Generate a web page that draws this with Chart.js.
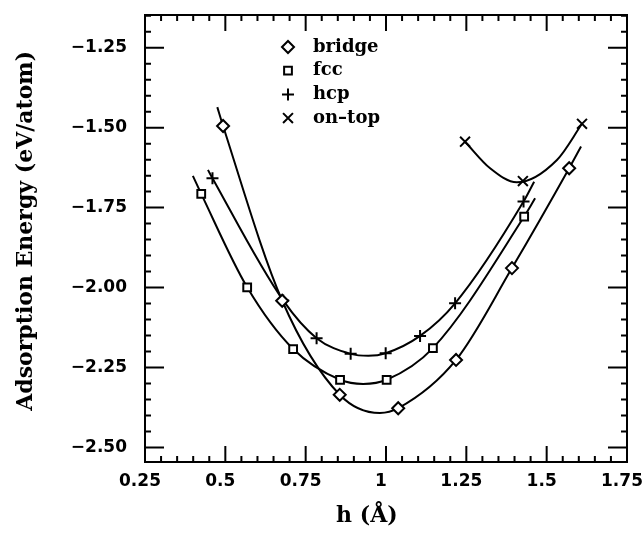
<!DOCTYPE html>
<html>
<head>
<meta charset="utf-8">
<script src="https://cdn.jsdelivr.net/npm/chart.js@4/dist/chart.umd.min.js"></script>
<style>
  html, body { margin: 0; padding: 0; background: #fff; }
</style>
</head>
<body>
<canvas id="adsorptionChart" width="644" height="533"></canvas>
<script>
// Energias de adsorção calculadas (marcadores)
const bridgeH = [0.493, 0.677, 0.856, 1.038, 1.218, 1.392, 1.570];
const bridgeE = [-1.495, -2.041, -2.335, -2.377, -2.226, -1.939, -1.627];
const fccH = [0.425, 0.568, 0.711, 0.857, 1.002, 1.146, 1.430];
const fccE = [-1.707, -1.999, -2.192, -2.288, -2.288, -2.189, -1.778];
const hcpH = [0.460, 0.680, 0.784, 0.890, 0.999, 1.106, 1.215, 1.428];
const hcpE = [-1.658, -2.040, -2.158, -2.207, -2.205, -2.151, -2.049, -1.731];
const ontopH = [1.246, 1.426, 1.610];
const ontopE = [-1.544, -1.667, -1.488];

// Curvas ajustadas, lidas ao longo da linha desenhada
const bridgeFitH = [0.475, 0.493, 0.677, 0.856, 0.981, 1.038, 1.218, 1.392, 1.570, 1.607];
const bridgeFitE = [-1.436, -1.495, -2.041, -2.335, -2.392, -2.377, -2.226, -1.939, -1.627, -1.559];
const fccFitH = [0.399, 0.425, 0.568, 0.711, 0.857, 0.929, 1.002, 1.146, 1.430, 1.464];
const fccFitE = [-1.651, -1.707, -1.999, -2.192, -2.288, -2.301, -2.288, -2.189, -1.778, -1.721];
const hcpFitH = [0.446, 0.460, 0.680, 0.784, 0.890, 0.945, 0.999, 1.106, 1.215, 1.428, 1.461];
const hcpFitE = [-1.632, -1.658, -2.040, -2.158, -2.207, -2.213, -2.205, -2.151, -2.049, -1.731, -1.669];
const ontopFitH = [1.246, 1.324, 1.407, 1.532, 1.610];
const ontopFitE = [-1.544, -1.627, -1.671, -1.601, -1.488];

// Eixos
const xTickValues = [0.25, 0.5, 0.75, 1, 1.25, 1.5, 1.75];
const xTickLabels = ['0.25', '0.5', '0.75', '1', '1.25', '1.5', '1.75'];
const yTickValues = [-2.5, -2.25, -2.0, -1.75, -1.5, -1.25];
const yTickLabels = ['\u22122.50', '\u22122.25', '\u22122.00', '\u22121.75', '\u22121.50', '\u22121.25'];

const toPoints = (xs, ys) => xs.map((v, i) => ({ x: v, y: ys[i] }));

const tickFont = { family: "'DejaVu Sans', sans-serif", size: 17, weight: 'bold' };
const titleFont = { family: "'DejaVu Serif', serif", size: 22, weight: 'bold' };

function fitLine(xs, ys) {
  return {
    type: 'line',
    data: toPoints(xs, ys),
    borderColor: '#000',
    borderWidth: 2,
    pointRadius: 0,
    cubicInterpolationMode: 'monotone',
    fill: false,
    order: 2
  };
}

function markers(label, xs, ys, style, radius) {
  return {
    type: 'scatter',
    label: label,
    data: toPoints(xs, ys),
    showLine: false,
    pointStyle: style,
    pointRadius: radius,
    pointBorderColor: '#000',
    pointBackgroundColor: '#fff',
    pointBorderWidth: 2,
    order: 1,
    isMarker: true
  };
}

// Moldura com marcas internas nos quatro lados
const frameTicks = {
  id: 'frameTicks',
  afterDatasetsDraw(chart) {
    const { ctx, chartArea: a, scales: { x, y } } = chart;
    ctx.save();
    ctx.strokeStyle = '#000';
    ctx.lineWidth = 2;
    ctx.strokeRect(a.left, a.top, a.right - a.left, a.bottom - a.top);
    ctx.beginPath();
    for (let k = 0; k <= 30; k++) {
      const v = 0.25 + k * 0.05;
      const px = x.getPixelForValue(v);
      const len = k % 5 === 0 ? 16 : 6;
      ctx.moveTo(px, a.bottom); ctx.lineTo(px, a.bottom - len);
      ctx.moveTo(px, a.top); ctx.lineTo(px, a.top + len);
    }
    for (let k = 0; k <= 27; k++) {
      const v = -2.5 + k * 0.05;
      if (v > y.max) break;
      const py = y.getPixelForValue(v);
      const len = k % 5 === 0 ? 19 : 6;
      ctx.moveTo(a.left, py); ctx.lineTo(a.left + len, py);
      ctx.moveTo(a.right, py); ctx.lineTo(a.right - len, py);
    }
    ctx.stroke();
    ctx.restore();
  }
};

// Legenda dentro da área do gráfico
function drawMarker(ctx, style, cx, cy, r) {
  ctx.beginPath();
  if (style === 'rectRot') {
    ctx.moveTo(cx - r, cy); ctx.lineTo(cx, cy - r); ctx.lineTo(cx + r, cy); ctx.lineTo(cx, cy + r); ctx.closePath();
  } else if (style === 'rect') {
    const s = r * Math.SQRT1_2;
    ctx.rect(cx - s, cy - s, 2 * s, 2 * s);
  } else if (style === 'cross') {
    ctx.moveTo(cx - r, cy); ctx.lineTo(cx + r, cy); ctx.moveTo(cx, cy - r); ctx.lineTo(cx, cy + r);
  } else {
    const s = r * Math.SQRT1_2;
    ctx.moveTo(cx - s, cy - s); ctx.lineTo(cx + s, cy + s); ctx.moveTo(cx + s, cy - s); ctx.lineTo(cx - s, cy + s);
  }
  ctx.fill();
  ctx.stroke();
}

const insideLegend = {
  id: 'insideLegend',
  afterDraw(chart) {
    const { ctx, chartArea: a } = chart;
    const items = chart.data.datasets.filter(d => d.isMarker);
    ctx.save();
    ctx.font = "bold 18px 'DejaVu Serif', serif";
    ctx.textBaseline = 'middle';
    ctx.fillStyle = '#000';
    ctx.strokeStyle = '#000';
    ctx.lineWidth = 2;
    items.forEach((d, i) => {
      const cy = a.top + 32 + i * 23.7;
      const cx = a.left + 143;
      ctx.fillStyle = '#fff';
      drawMarker(ctx, d.pointStyle, cx, cy, d.pointRadius);
      ctx.fillStyle = '#000';
      ctx.fillText(d.label, a.left + 168, cy);
    });
    ctx.restore();
  }
};

new Chart(document.getElementById('adsorptionChart'), {
  type: 'scatter',
  data: {
    datasets: [
      markers('bridge', bridgeH, bridgeE, 'rectRot', 6),
      markers('fcc', fccH, fccE, 'rect', 5.5),
      markers('hcp', hcpH, hcpE, 'cross', 6),
      markers('on\u2013top', ontopH, ontopE, 'crossRot', 7),
      fitLine(bridgeFitH, bridgeFitE),
      fitLine(fccFitH, fccFitE),
      fitLine(hcpFitH, hcpFitE),
      fitLine(ontopFitH, ontopFitE)
    ]
  },
  options: {
    responsive: false,
    animation: false,
    devicePixelRatio: 1,
    layout: { padding: { top: 15, right: 17, bottom: 0, left: 0 } },
    plugins: {
      legend: { display: false },
      tooltip: { enabled: false }
    },
    scales: {
      x: {
        type: 'linear',
        position: 'bottom',
        min: 0.25,
        max: 1.75,
        afterBuildTicks: (scale) => { scale.ticks = xTickValues.map(v => ({ value: v })); },
        afterFit: (scale) => { scale.height = 71; scale.paddingLeft = 0; scale.paddingRight = 0; },
        grid: { display: false, drawTicks: false },
        border: { display: false },
        ticks: {
          callback: (v) => xTickLabels[xTickValues.indexOf(v)],
          font: tickFont,
          color: '#000',
          padding: 9,
          labelOffset: -5,
          maxRotation: 0,
          autoSkip: false
        },
        title: {
          display: true,
          // espaços no fim deslocam o título para a esquerda, como no original
          text: 'h (Å)\u00a0\u00a0\u00a0\u00a0\u00a0',
          font: titleFont,
          color: '#000',
          padding: { top: 0, bottom: 4 }
        }
      },
      y: {
        type: 'linear',
        min: -2.545,
        max: -1.148,
        afterBuildTicks: (scale) => { scale.ticks = yTickValues.map(v => ({ value: v })); },
        afterFit: (scale) => { scale.width = 145; scale.paddingTop = 0; scale.paddingBottom = 0; },
        grid: { display: false, drawTicks: false },
        border: { display: false },
        ticks: {
          callback: (v) => yTickLabels[yTickValues.indexOf(v)],
          font: tickFont,
          color: '#000',
          padding: 18,
          autoSkip: false
        },
        title: {
          display: true,
          text: '\u00a0\u00a0Adsorption Energy (eV/atom)',
          font: titleFont,
          color: '#000',
          padding: { top: 13, bottom: 0 }
        }
      }
    }
  },
  plugins: [frameTicks, insideLegend]
});
</script>
</body>
</html>
